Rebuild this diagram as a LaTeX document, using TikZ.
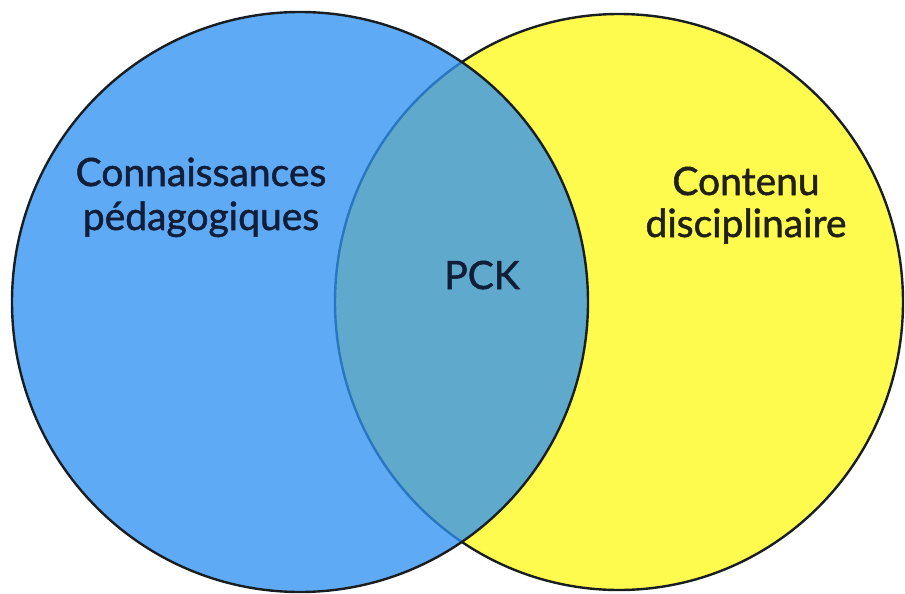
\documentclass[tikz,border=0pt]{standalone}
\usepackage{fontspec}
\setmainfont{Lato}[FakeBold=1.3]
\definecolor{leftblue}{RGB}{47,145,242}
\definecolor{rightyellow}{RGB}{255,250,78}
\definecolor{rimline}{RGB}{25,30,35}
\definecolor{labelink}{RGB}{18,30,55}
\definecolor{darkink}{RGB}{32,32,24}
\tikzset{
  setring/.style={draw=rimline, line width=2.4pt},
  setlabel/.style={text=labelink, align=center, font=\fontsize{39}{44}\selectfont, inner sep=0pt}
}
\begin{document}
\begin{tikzpicture}[x=1pt, y=-1pt]
  \useasboundingbox[fill=white] (0,0) rectangle (905,594);
  % content set, drawn first so the other set overlays it
  \path[setring, fill=rightyellow] (619,302) circle[x radius=284, y radius=288];
  % pedagogy set, translucent fill over the content set
  \path[setring, fill=leftblue, fill opacity=0.77] (300,302) circle[x radius=288, y radius=290];
  % anchor=base sits on the baseline of the last line
  \node[setlabel, anchor=base] (ped) at (201,230) {Connaissances\\pédagogiques};
  \node[setlabel, anchor=base, text=darkink, font=\fontsize{39}{42}\selectfont] (cont) at (746,237) {Contenu\\disciplinaire};
  \node[setlabel, anchor=base] (pck) at (482,289) {PCK};
\end{tikzpicture}
\end{document}
